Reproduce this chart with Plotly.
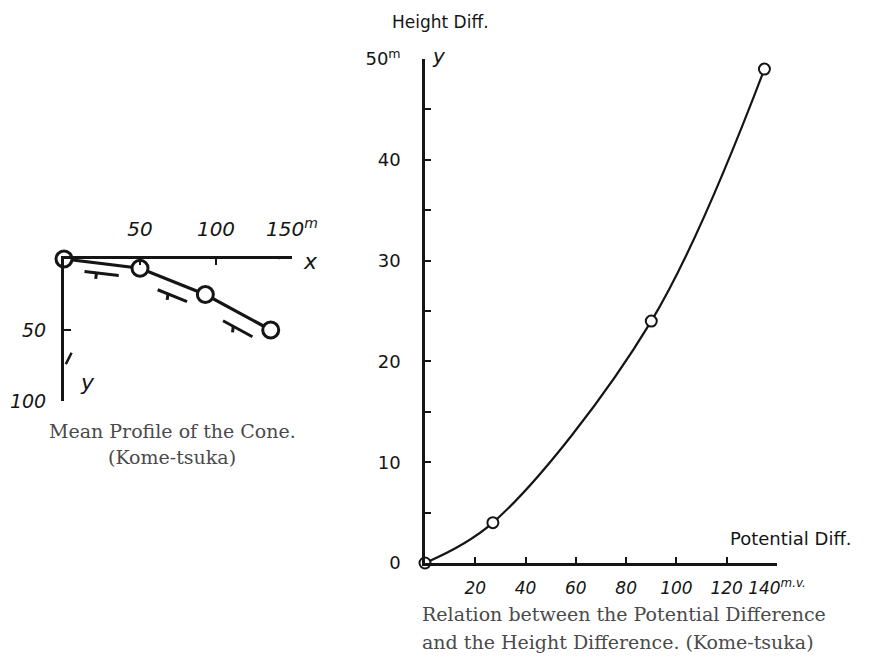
import plotly.graph_objects as go

# ---- data ----
profile_x = [0, 50, 93, 136]          # horizontal distance (m)
profile_y = [0, 6.5, 25, 50]          # depth below summit (m)
profile_xticks = [50, 100, 150]
profile_xlabels = ["50", "100", "150<sup>m</sup>"]
profile_yticks = [50, 100]
profile_ylabels = ["50", "100"]

pot_diff = [0, 27, 90, 135]           # potential difference (mV)
height_diff = [0, 4, 24, 49]          # height difference (m)
pot_xticks = [20, 40, 60, 80, 100, 120, 140]
pot_xlabels = ["20", "40", "60", "80", "100", "120", "140<sup>m.v.</sup>"]
h_yticks = [0, 10, 20, 30, 40, 50]
h_ylabels = ["0", "10", "20", "30", "40", "50<sup>m</sup>"]

INK = "#151515"
HAND = dict(family="DejaVu Sans", size=17, color=INK, style="italic")
CAP = dict(family="DejaVu Serif", size=19, color="#4a4a4a")

# page body has an 8px margin: work in screen pixels and convert
OFF = 8
W, H = 869 - OFF, 659 - OFF
def px(v):
    return (v - OFF) / W
def py(v):
    return 1 - (v - OFF) / H

# left panel pixel geometry (used for the slope marks)
LX0, LX1, LY0, LY1 = 64, 292, 259, 401
sx = (LX1 - LX0) / 150.0
sy = (LY1 - LY0) / 100.0

fig = go.Figure()

# ---- left: mean profile ----
fig.add_trace(go.Scatter(
    x=profile_x, y=profile_y, mode="lines+markers",
    line=dict(color=INK, width=3.2),
    marker=dict(symbol="circle", size=16, color="white", line=dict(color=INK, width=3)),
    cliponaxis=False, xaxis="x", yaxis="y", showlegend=False))

# slope marks under each segment (derived from the data)
mx, my = [], []
for i in range(len(profile_x) - 1):
    x0, y0, x1, y1 = profile_x[i], profile_y[i], profile_x[i + 1], profile_y[i + 1]
    slope_px = ((y1 - y0) * sy) / ((x1 - x0) * sx)
    off = (8 + 16 * slope_px) / sy
    ta, tb = 0.27, 0.72
    xa, ya = x0 + ta * (x1 - x0), y0 + ta * (y1 - y0) + off
    xb, yb = x0 + tb * (x1 - x0), y0 + tb * (y1 - y0) + off
    xm = xa + 0.35 * (xb - xa)
    ym = ya + 0.35 * (yb - ya)
    mx += [xa, xb, None, xm, xm - 0.5, None]
    my += [ya, yb, None, ym, ym + 6 / sy, None]
fig.add_trace(go.Scatter(
    x=mx, y=my, mode="lines", line=dict(color=INK, width=3),
    cliponaxis=False, xaxis="x", yaxis="y", showlegend=False, hoverinfo="skip"))

# small direction barbs on the left axes
fig.add_trace(go.Scatter(
    x=[134, 142, None, 5, 1.2], y=[-4, -0.5, None, 66, 74],
    mode="lines", line=dict(color=INK, width=2.5),
    cliponaxis=False, xaxis="x", yaxis="y", showlegend=False, hoverinfo="skip"))

# ---- right: potential vs height ----
fig.add_trace(go.Scatter(
    x=pot_diff, y=height_diff, mode="lines",
    line=dict(color=INK, width=2.2, shape="spline", smoothing=1.0),
    cliponaxis=False, xaxis="x2", yaxis="y2", showlegend=False))
fig.add_trace(go.Scatter(
    x=pot_diff, y=height_diff, mode="markers",
    marker=dict(symbol="circle", size=11, color="white", line=dict(color=INK, width=2)),
    cliponaxis=False, xaxis="x2", yaxis="y2", showlegend=False))

common = dict(automargin=False, showgrid=False, zeroline=False, showline=True,
              linecolor=INK, tickcolor=INK, tickangle=0)

fig.update_layout(
    width=W, height=H, margin=dict(l=0, r=0, t=0, b=0),
    paper_bgcolor="white", plot_bgcolor="rgba(0,0,0,0)",
    xaxis=dict(common, domain=[px(LX0), px(LX1)], range=[0, 150], anchor="y", side="top",
               linewidth=3, tickvals=profile_xticks, ticktext=profile_xlabels, ticks="inside",
               ticklen=6, tickwidth=2, tickfont=dict(HAND, size=20),
               ticklabelstandoff=12),
    yaxis=dict(common, domain=[py(LY1), py(LY0)], range=[100, 0], anchor="x",
               linewidth=3, tickvals=profile_yticks, ticktext=profile_ylabels, ticks="inside",
               ticklen=7, tickwidth=2, tickfont=dict(HAND, size=19),
               ticklabelstandoff=11),
    xaxis2=dict(common, domain=[px(425), px(777)], range=[0, 140], anchor="y2",
                linewidth=2.5, tickvals=pot_xticks, ticktext=pot_xlabels, ticks="inside",
                ticklen=6, tickwidth=1.5, tickfont=HAND,
                ticklabelstandoff=8),
    yaxis2=dict(common, domain=[py(563), py(59)], range=[0, 50], anchor="x2",
                linewidth=2.5, tickvals=h_yticks, ticktext=h_ylabels, ticks="inside",
                ticklen=6, tickwidth=1.5,
                tickfont=dict(family="DejaVu Sans", size=18, color=INK),
                minor=dict(ticks="inside", dtick=5, ticklen=6, tickwidth=1.5, tickcolor=INK),
                ticklabelstandoff=18),
)

ann = [
    dict(text="Height Diff.", x=px(440), y=py(22), font=dict(family="DejaVu Sans", size=17, color=INK)),
    dict(text="y", x=px(439), y=py(56), font=dict(HAND, size=20)),
    dict(text="Potential Diff.", x=px(791), y=py(538), font=dict(family="DejaVu Sans", size=18, color=INK)),
    dict(text="x", x=px(310), y=py(262), font=dict(HAND, size=22)),
    dict(text="y", x=px(87), y=py(382), font=dict(HAND, size=22)),
    dict(text="Mean Profile of the Cone.", x=px(172), y=py(431), font=CAP),
    dict(text="(Kome-tsuka)", x=px(172), y=py(457), font=CAP),
    dict(text="Relation between the Potential Difference", x=px(420), y=py(614), xanchor="left", font=CAP),
    dict(text="and the Height Difference. (Kome-tsuka)", x=px(420), y=py(642), xanchor="left", font=CAP),
]
for a in ann:
    a.setdefault("xanchor", "center")
    fig.add_annotation(xref="paper", yref="paper", showarrow=False, yanchor="middle", **a)

fig.write_html("out.html")
